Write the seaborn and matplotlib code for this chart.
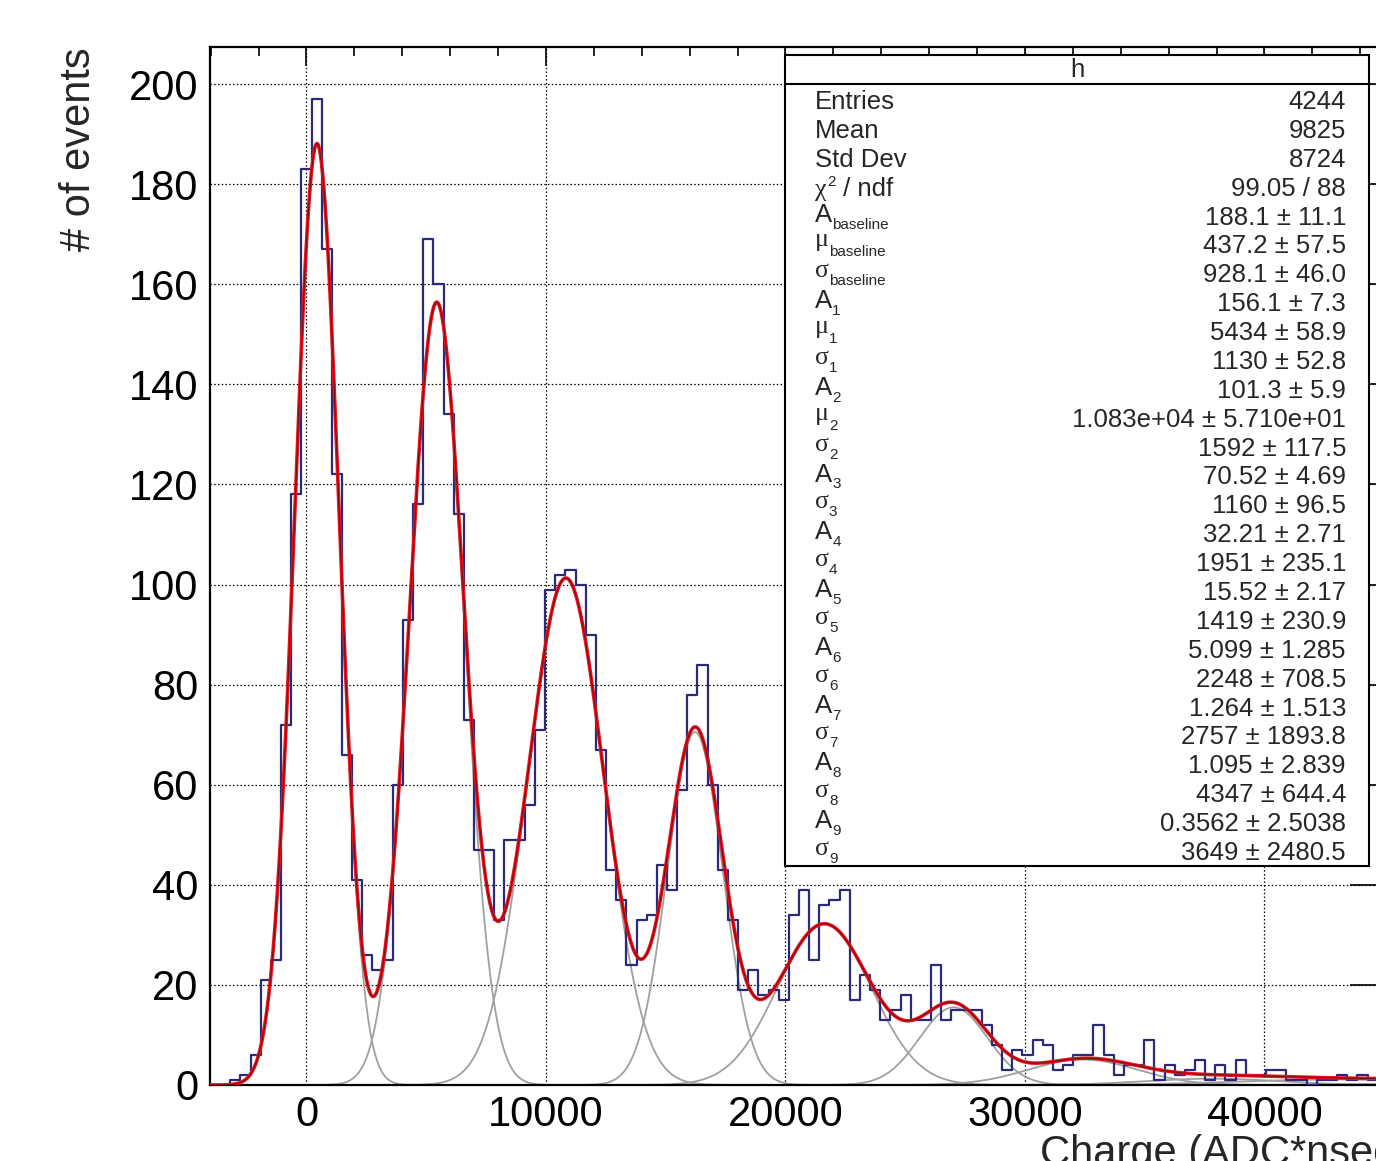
import numpy as np
import pandas as pd
import matplotlib
matplotlib.use("Agg")
import matplotlib.pyplot as plt
from matplotlib.patches import Rectangle
from matplotlib.lines import Line2D
from matplotlib.ticker import MultipleLocator
import seaborn as sns

# --- histogram data (counts per bin, bin 0 is centred on zero) ---
bin_width = 424
first_bin = -9
counts = [
    0, 0, 1, 2, 6, 21, 25, 72, 118,                 # -9 .. -1
    183, 197, 167, 122, 66, 41, 26, 23, 25, 60,      # 0 .. 9
    93, 116, 169, 160, 134, 114, 73, 47, 47, 33,     # 10 .. 19
    49, 49, 56, 71, 99, 102, 103, 100, 90, 67,       # 20 .. 29
    43, 37, 24, 33, 34, 44, 39, 59, 78, 84,          # 30 .. 39
    60, 43, 33, 19, 23, 18, 19, 17, 34, 39,          # 40 .. 49
    25, 36, 37, 39, 17, 22, 19, 13, 15, 18,          # 50 .. 59
    13, 13, 24, 13, 15, 15, 15, 12, 8, 3,            # 60 .. 69
    7, 6, 9, 8, 3, 4, 6, 6, 12, 6,                   # 70 .. 79
    2, 4, 4, 9, 1, 4, 2, 3, 5, 1,                    # 80 .. 89
    4, 1, 5, 2, 2, 3, 3, 1, 1, 0,                    # 90 .. 99
    1, 1, 2, 1, 2, 1, 1, 1, 1,                       # 100 .. 108
]

# --- fit results (from the stat box) ---
amp = [188.1, 156.1, 101.3, 70.52, 32.21, 15.52, 5.099, 1.264, 1.095, 0.3562]
sigma = [928.1, 1130, 1592, 1160, 1951, 1419, 2248, 2757, 4347, 3649]
mu_baseline = 437.2
mu_1 = 5434
mu_2 = 10830

# "_" marks a subscript, "^" a superscript (ROOT TLatex style)
stat_labels = [
    "Entries", "Mean", "Std Dev", "χ^2 / ndf",
    "A_baseline", "μ_baseline", "σ_baseline",
    "A_1", "μ_1", "σ_1",
    "A_2", "μ_2", "σ_2",
    "A_3", "σ_3", "A_4", "σ_4", "A_5", "σ_5",
    "A_6", "σ_6", "A_7", "σ_7", "A_8", "σ_8",
    "A_9", "σ_9",
]
stat_values = [
    "4244", "9825", "8724", "99.05 / 88",
    "188.1 ± 11.1", "437.2 ± 57.5", "928.1 ± 46.0",
    "156.1 ± 7.3", "5434 ± 58.9", "1130 ± 52.8",
    "101.3 ± 5.9", "1.083e+04 ± 5.710e+01", "1592 ± 117.5",
    "70.52 ± 4.69", "1160 ± 96.5", "32.21 ± 2.71", "1951 ± 235.1",
    "15.52 ± 2.17", "1419 ± 230.9", "5.099 ± 1.285", "2248 ± 708.5",
    "1.264 ± 1.513", "2757 ± 1893.8", "1.095 ± 2.839", "4347 ± 644.4",
    "0.3562 ± 2.5038", "3649 ± 2480.5",
]

x_ticks = [0, 10000, 20000, 30000, 40000]
y_ticks = list(range(0, 201, 20))

# --- style ---
sns.set_theme(style="white")
plt.rcParams["font.family"] = ["Liberation Sans", "DejaVu Sans"]

W, H = 1376, 1161
fig = plt.figure(figsize=(W / 100, H / 100), dpi=100)
fig.patch.set_facecolor("white")

x_lo = (first_bin - 0.5) * bin_width
x_hi = x_lo + len(counts) * bin_width
px_per_unit = 23.95 / 1000

# axes frame runs past the right edge of the picture (cropped ROOT canvas)
ax = fig.add_axes([210 / W, (H - 1085) / H, (x_hi - x_lo) * px_per_unit / W, (1085 - 47) / H])

hist_df = pd.DataFrame({
    "charge": x_lo + bin_width * (np.arange(len(counts)) + 0.5),
    "n": counts,
})

sns.histplot(data=hist_df, x="charge", weights="n", binwidth=bin_width,
             binrange=(x_lo, x_hi), element="step", fill=False,
             color="#2a2a7a", linewidth=1.6, ax=ax, zorder=3)

# fit components
mus = [mu_baseline, mu_1] + [mu_1 + (n - 1) * (mu_2 - mu_1) for n in range(2, 10)]
xs = np.linspace(x_lo, x_hi, 3000)
comps = [a * np.exp(-0.5 * ((xs - m) / s) ** 2) for a, m, s in zip(amp, mus, sigma)]
for c in comps:
    sns.lineplot(x=xs, y=c, color="#a0a0a0", linewidth=1.3, ax=ax,
                 estimator=None, sort=False, zorder=2)
total = np.sum(comps, axis=0)
sns.lineplot(x=xs, y=total, color="#e8141e", linewidth=2.6, ax=ax,
             estimator=None, sort=False, zorder=4)
sns.lineplot(x=xs, y=total, color="#6e0a10", linewidth=0.8, alpha=0.9, ax=ax,
             estimator=None, sort=False, zorder=5)

ax.set_xlim(x_lo, x_hi)
ax.set_ylim(0, 207.4)

ax.set_xticks(x_ticks)
ax.set_xticklabels([str(t) for t in x_ticks])
ax.set_yticks(y_ticks)
ax.set_yticklabels([str(t) for t in y_ticks])
ax.xaxis.set_minor_locator(MultipleLocator(2000))
ax.yaxis.set_minor_locator(MultipleLocator(5))

ax.tick_params(axis="both", which="both", direction="in", top=True, right=True,
               color="black", width=1.2, labelsize=30, labelcolor="black")
ax.tick_params(axis="x", which="major", length=14, pad=7.5)
ax.tick_params(axis="x", which="minor", length=6.5)
ax.tick_params(axis="y", which="major", length=42, pad=8.5)
ax.tick_params(axis="y", which="minor", length=21.5)

ax.grid(True, which="major", linestyle=(0, (1.2, 1.8)), color="black", linewidth=0.9)
for sp in ax.spines.values():
    sp.set_visible(True)
    sp.set_color("black")
    sp.set_linewidth(1.6)

ax.set_xlabel("Charge (ADC*nsec)", fontsize=30, loc="right")
ax.xaxis.set_label_coords(1.0, -0.047)
ax.xaxis.label.set_va("top")
ax.set_ylabel("# of events", fontsize=30, loc="top")
ax.yaxis.set_label_coords(-0.093, 1.0)

# --- stat box ---
def fx(px):
    return px / W

def fy(py):
    return 1 - py / H

box_l, box_r, box_t, box_b, head = 785, 1369, 55, 866, 84
fig.add_artist(Rectangle((fx(box_l), fy(box_b)), fx(box_r) - fx(box_l), fy(box_t) - fy(box_b),
                         transform=fig.transFigure, facecolor="white",
                         edgecolor="black", linewidth=1.5, zorder=10))
fig.add_artist(Line2D([fx(box_l), fx(box_r)], [fy(head), fy(head)],
                      transform=fig.transFigure, color="black", linewidth=1.5, zorder=11))
fig.text(fx((box_l + box_r) / 2), fy(70), "h", ha="center", va="center",
         fontsize=18.5, zorder=12)

renderer = fig.canvas.get_renderer()
greek = ["Liberation Serif", "DejaVu Serif"]
# (main shift, sub shift) in pixels relative to the row baseline
shifts = {"A": (-3, 4), "μ": (-7, 3), "σ": (-5, 3), "χ": (0, -10)}

row0, row_step = 100, (851 - 100) / 26
for i, (lab, val) in enumerate(zip(stat_labels, stat_values)):
    base = row0 + i * row_step + 9
    fig.text(fx(1346), fy(base), val, ha="right", va="baseline", fontsize=18.5, zorder=12)
    if "_" in lab or "^" in lab:
        sep = "_" if "_" in lab else "^"
        main, rest = lab.split(sep)
        dm, ds = shifts[main]
        fam = greek if main in "μσχ" else None
        t = fig.text(fx(815), fy(base + dm), main, ha="left", va="baseline",
                     fontsize=18.5, zorder=12, family=fam)
        x_end = t.get_window_extent(renderer).x1
        if sep == "_":
            fig.text(x_end / W, fy(base + ds), rest, ha="left", va="baseline",
                     fontsize=11, zorder=12)
        else:
            sup, tail = rest[0], rest[1:]
            s = fig.text(x_end / W + 0.0005, fy(base + ds), sup, ha="left", va="baseline",
                         fontsize=11, zorder=12)
            x_sup = s.get_window_extent(renderer).x1
            fig.text(x_sup / W, fy(base), tail, ha="left", va="baseline",
                     fontsize=18.5, zorder=12)
    else:
        fig.text(fx(815), fy(base), lab, ha="left", va="baseline", fontsize=18.5, zorder=12)

fig.savefig("out.png", dpi=100)
